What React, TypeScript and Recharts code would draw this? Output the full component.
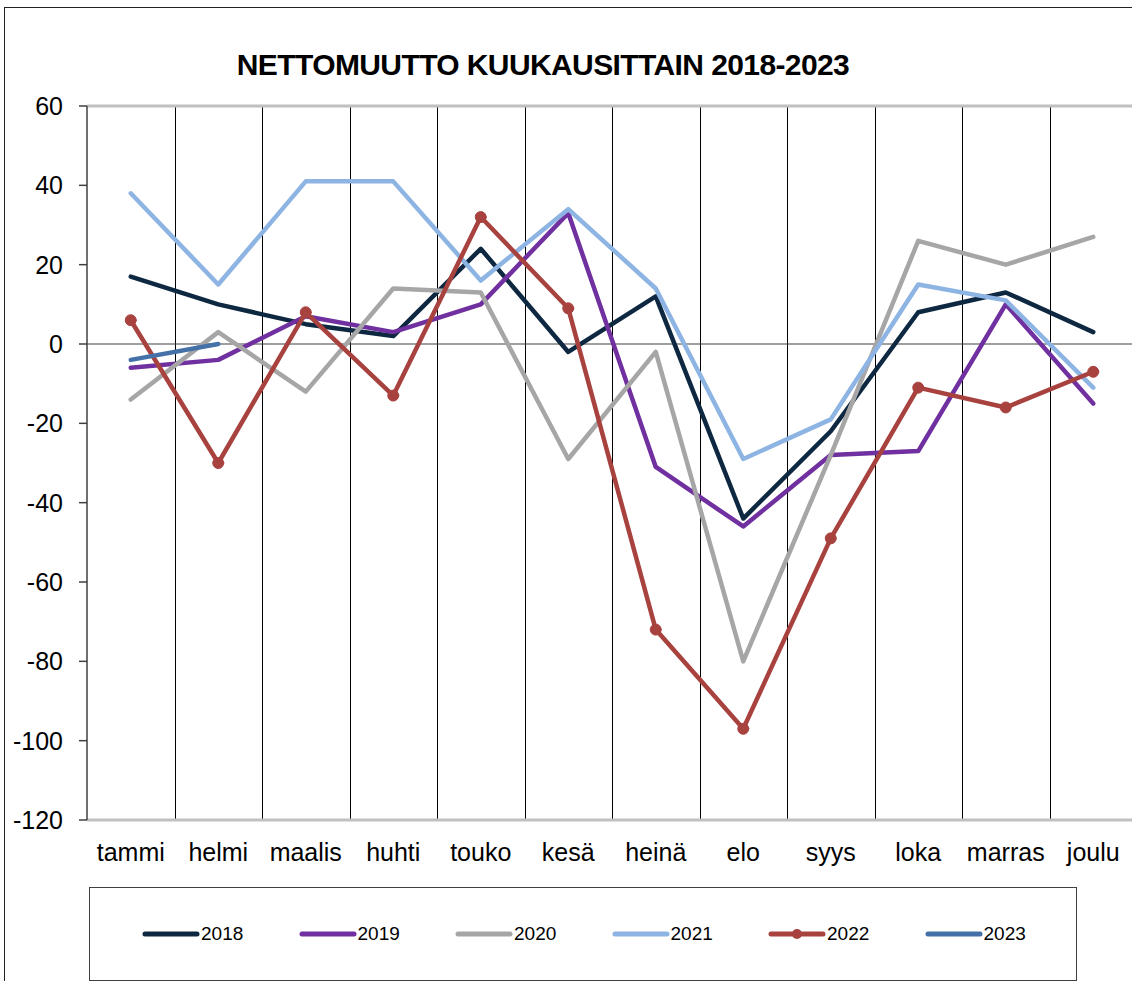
import { LineChart, Line, XAxis, YAxis, CartesianGrid, ReferenceLine } from 'recharts'

const months = ['tammi', 'helmi', 'maalis', 'huhti', 'touko', 'kesä', 'heinä', 'elo', 'syys', 'loka', 'marras', 'joulu']
const y2018 = [17, 10, 5, 2, 24, -2, 12, -44, -22, 8, 13, 3]
const y2019 = [-6, -4, 7, 3, 10, 33, -31, -46, -28, -27, 10, -15]
const y2020 = [-14, 3, -12, 14, 13, -29, -2, -80, -28, 26, 20, 27]
const y2021 = [38, 15, 41, 41, 16, 34, 14, -29, -19, 15, 11, -11]
const y2022 = [6, -30, 8, -13, 32, 9, -72, -97, -49, -11, -16, -7]
const y2023: (number | null)[] = [-4, 0, null, null, null, null, null, null, null, null, null, null]
const yTicks = [-120, -100, -80, -60, -40, -20, 0, 20, 40, 60]

const series = [
  { key: '2018', color: '#0e2841', values: y2018 },
  { key: '2019', color: '#7030a0', values: y2019 },
  { key: '2020', color: '#a6a6a6', values: y2020 },
  { key: '2021', color: '#8db4e2', values: y2021 },
  { key: '2022', color: '#a8423f', values: y2022, dots: true },
  { key: '2023', color: '#4472a8', values: y2023 },
]

const data = months.map((m, i) => {
  const row: Record<string, string | number | null> = { month: m }
  series.forEach(s => { row[s.key] = s.values[i] })
  return row
})

const font = '"Liberation Sans", Arial, sans-serif'

export default function App() {
  return (
    <div style={{ position: 'absolute', left: 0, top: 0, width: 1132, height: 981, overflow: 'hidden', background: '#fff', fontFamily: font }}>
      {/* chart frame */}
      <div style={{ position: 'absolute', left: 4, top: 7, width: 1140, height: 990, borderLeft: '1.5px solid #222', borderTop: '1.5px solid #222' }} />
      <div style={{ position: 'absolute', left: 0, width: 1086, top: 48, textAlign: 'center', fontSize: 30, fontWeight: 'bold', color: '#000', letterSpacing: -0.6 }}>
        NETTOMUUTTO KUUKAUSITTAIN 2018-2023
      </div>
      <div style={{ position: 'absolute', left: 0, top: 0 }}>
        <LineChart width={1138} height={880} data={data} margin={{ top: 106, right: 1, bottom: 0, left: 0 }}>
          <CartesianGrid
            horizontal={false}
            stroke="#000"
            strokeWidth={1}
            verticalCoordinatesGenerator={({ offset }: any) =>
              months.map((_, i) => Math.round(offset.left + (offset.width * (i + 1)) / months.length) + 0.5)
            }
          />
          <XAxis
            dataKey="month"
            padding={{ left: 43.75, right: 43.75 }}
            tickLine={false}
            axisLine={{ stroke: '#c0c0c0', strokeWidth: 3 }}
            tick={{ fill: '#000', fontSize: 25, fontFamily: font }}
            tickSize={0}
            tickMargin={23}
            height={60}
            interval={0}
          />
          <YAxis
            domain={[-120, 60]}
            ticks={yTicks}
            width={87}
            axisLine={{ stroke: '#404040', strokeWidth: 1.5 }}
            tickLine={{ stroke: '#404040', strokeWidth: 1.5 }}
            tickSize={8}
            tickMargin={16}
            tick={{ fill: '#000', fontSize: 25, fontFamily: font }}
            interval={0}
          />
          <ReferenceLine y={60} stroke="#c0c0c0" strokeWidth={3} />
          <ReferenceLine y={0} stroke="#404040" strokeWidth={1.2} />
          {series.map(s => (
            <Line
              key={s.key}
              dataKey={s.key}
              stroke={s.color}
              strokeWidth={4.5}
              strokeLinecap="round"
              strokeLinejoin="round"
              dot={s.dots ? { r: 5.5, fill: s.color, stroke: s.color, strokeWidth: 1 } : false}
              activeDot={false}
              connectNulls={false}
              isAnimationActive={false}
            />
          ))}
        </LineChart>
      </div>
      {/* legend */}
      <div style={{ position: 'absolute', left: 89, top: 887, width: 988, height: 94, border: '1.5px solid #404040', boxSizing: 'border-box' }}>
        {series.map((s, i) => (
          <div key={s.key} style={{ position: 'absolute', left: 52 + i * 156.5, top: 34, display: 'flex', alignItems: 'center', height: 24 }}>
            <svg width={58} height={14}>
              <line x1={3} y1={7} x2={55} y2={7} stroke={s.color} strokeWidth={5} strokeLinecap="round" />
              {s.dots && <circle cx={29} cy={7} r={5} fill={s.color} />}
            </svg>
            <span style={{ fontSize: 19, color: '#000', marginLeft: 1 }}>{s.key}</span>
          </div>
        ))}
      </div>
    </div>
  )
}
